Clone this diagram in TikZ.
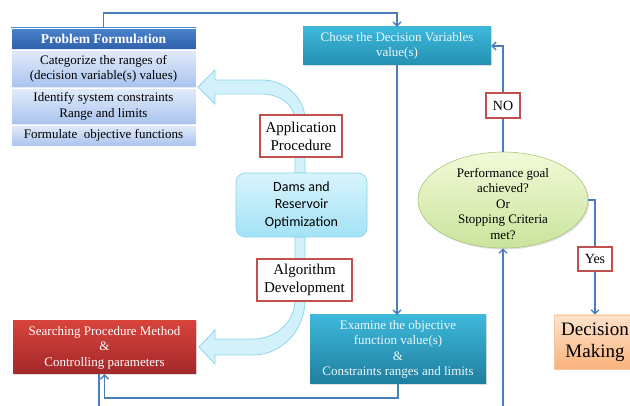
\documentclass[tikz,border=0pt]{standalone}
\usepackage{fontspec}
\setmainfont{Liberation Serif}
\newfontfamily\calibrifont{Carlito}
\usetikzlibrary{arrows.meta,shapes.geometric,shadows}
\definecolor{conncol}{HTML}{4A7EBB}
\definecolor{labred}{HTML}{C0504D}
\definecolor{arrfill}{HTML}{D2F1FB}
\definecolor{arrline}{HTML}{8ED6EE}
\definecolor{pfhtop}{HTML}{4A82CC}
\definecolor{pfhbot}{HTML}{2F5FAA}
\definecolor{pfrtop}{HTML}{E2EBFA}
\definecolor{pfrbot}{HTML}{A9C3EE}
\definecolor{tealtxt}{HTML}{EEF8FB}
\definecolor{tealtop}{HTML}{3DB8DB}
\definecolor{tealbot}{HTML}{2590B2}
\definecolor{tealbotb}{HTML}{1F7E9E}
\definecolor{redtop}{HTML}{D7433C}
\definecolor{redbot}{HTML}{A3282A}
\definecolor{damtop}{HTML}{D8F4FC}
\definecolor{dambot}{HTML}{A3E2F6}
\definecolor{damline}{HTML}{86D2EC}
\definecolor{elltop}{HTML}{F3F9D8}
\definecolor{ellbot}{HTML}{C9E49C}
\definecolor{ellline}{HTML}{A9C77A}
\definecolor{dectop}{HTML}{FDE3CC}
\definecolor{decbot}{HTML}{F9B37C}
\definecolor{decline}{HTML}{F5C7A0}
\begin{document}
\begin{tikzpicture}[x=1pt,y=-1pt,
  txt/.style={font=\fontsize{13}{15.5}\selectfont, align=center, inner sep=0pt},
  shad/.style={drop shadow={opacity=0.25, shadow xshift=1.2pt, shadow yshift=-1.5pt}},
  link/.style={draw=conncol, line width=1.6pt, -{Straight Barb[length=4pt,width=8pt,line width=1.3pt]}},
  plainlink/.style={draw=conncol, line width=1.6pt},
  pfhead/.style={txt, font=\fontsize{13.5}{16}\selectfont\bfseries, text=white, minimum width=185pt, minimum height=22pt, top color=pfhtop, bottom color=pfhbot, draw=white, line width=0.6pt},
  pfrow/.style={txt, minimum width=185pt, top color=pfrtop, bottom color=pfrbot, draw=white, line width=0.8pt},
  tealbox/.style={txt, text=tealtxt, top color=tealtop, bottom color=tealbot, shad},
  labbox/.style={txt, font=\fontsize{15}{18}\selectfont, draw=labred, line width=1.1pt, fill=white},
  smalllab/.style={txt, font=\fontsize{14}{16}\selectfont, draw=labred, line width=1.1pt, fill=white}
]
\useasboundingbox (0,0) rectangle (630,406);
\clip (0,0) rectangle (630,406);

% big curved arrows
\filldraw[fill=arrfill, draw=arrline, line width=0.8pt]
  (305,173) -- (305,120) .. controls (305,97.9) and (285.7,80) .. (262,80)
  -- (215,80) -- (215,70) -- (198,87) -- (215,104) -- (215,94) -- (262,94)
  .. controls (280.2,94) and (295,105.6) .. (295,120) -- (295,173) -- cycle;
\filldraw[fill=arrfill, draw=arrline, line width=0.8pt]
  (305,237) -- (305,300) .. controls (305,330.4) and (281.7,355) .. (253,355)
  -- (215,355) -- (215,364) -- (199,347) -- (215,330) -- (215,339) -- (253,339)
  .. controls (276.2,339) and (295,321.5) .. (295,300) -- (295,237) -- cycle;

% Problem formulation
\node[pfhead, shad] (pfh) at (103.5,39) {Problem Formulation};
\node[pfrow, minimum height=38pt] (pf1) at (103.5,69) {Categorize the ranges of\\(decision variable(s) values)};
\node[pfrow, minimum height=37pt] (pf2) at (103.5,106.5) {Identify system constraints\\Range and limits};
\node[pfrow, minimum height=21pt] (pf3) at (103.5,135.5) {Formulate\ \ objective functions};

% teal boxes
\node[tealbox, minimum width=188pt, minimum height=38pt] (chose) at (397,46) {Chose the Decision Variables\\value(s)};
\node[tealbox, minimum width=176pt, minimum height=69pt, bottom color=tealbotb] (exam) at (398,349.5) {Examine the objective\\function value(s)\\\&\\Constraints ranges and limits};

% searching
\node[txt, text=white, minimum width=183pt, minimum height=53pt, top color=redtop, bottom color=redbot, shad] (search) at (104.5,347.5) {Searching Procedure Method\\\&\\Controlling parameters};

% dams
\node[txt, font=\calibrifont\fontsize{14}{17.5}\selectfont, minimum width=131pt, minimum height=64pt, rounded corners=9pt, top color=damtop, bottom color=dambot, draw=damline, line width=0.6pt] (dams) at (301.5,205) {Dams and\\Reservoir\\Optimization};

% labels on arrows
\node[labbox, minimum width=82pt, minimum height=42pt] (app) at (301,136) {Application\\Procedure};
\node[labbox, minimum width=95pt, minimum height=42pt] (alg) at (304.5,280) {Algorithm\\Development};

% ellipse
\node[ellipse, minimum width=170pt, minimum height=96pt, inner sep=0pt, top color=elltop, bottom color=ellbot, draw=ellline, line width=0.6pt, shad] (ell) at (503,200) {};
\node[txt] (elltext) at (503,204) {Performance goal\\achieved?\\Or\\Stopping Criteria\\met?};

% decision making
\node[txt, font=\fontsize{19}{22}\selectfont, minimum width=82pt, minimum height=54pt, top color=dectop, bottom color=decbot, draw=decline, line width=0.6pt, shad] (dec) at (595,342) {Decision\\Making};

% connectors
\coordinate (topy) at (0,13);
\draw[link] (pfh.north) -- (pfh.north |- topy) -| (chose.north);
\draw[link] (chose.south) -- (chose.south |- exam.north);
\coordinate (boty) at (0,398);
\draw[link] (exam.south) -- (exam.south |- boty) -| (search.south);
\coordinate (offleft) at (99,420);
\draw[plainlink] (search.south -| offleft) -- (offleft);
\coordinate (offright) at (503,420);
\draw[link] (offright) -- (ell.south);
\draw[link] (ell.north) -- (ell.north |- chose.east) -- (chose.east);
\draw[link] (ell.east) -| (dec.north);

\node[smalllab, minimum width=34pt, minimum height=25pt] (no) at (503,105.5) {NO};
\node[smalllab, minimum width=34pt, minimum height=24pt] (yes) at (595,259) {Yes};
\end{tikzpicture}
\end{document}
